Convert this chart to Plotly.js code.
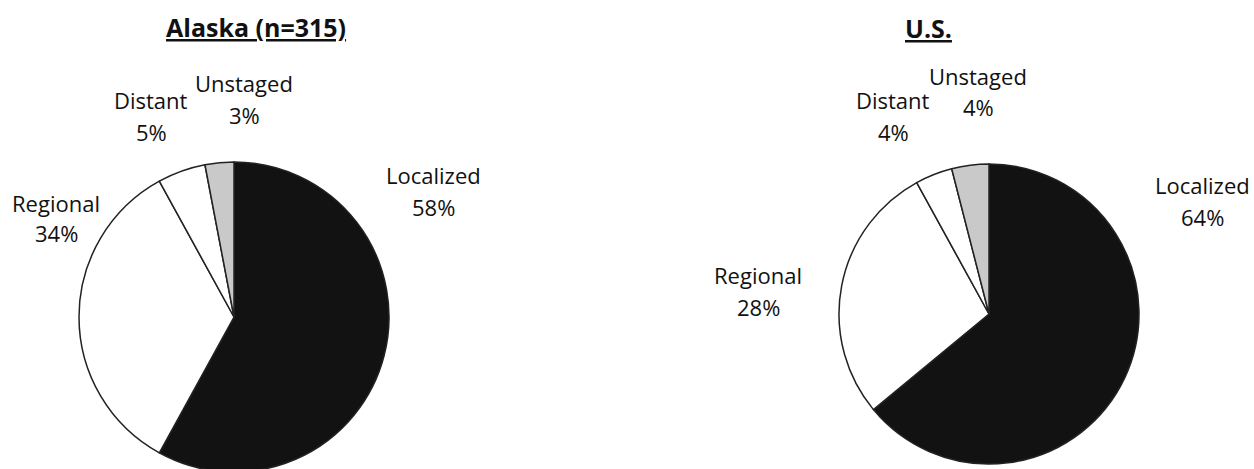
<!DOCTYPE html>
<html>
<head>
<meta charset="utf-8">
<script src="https://cdn.plot.ly/plotly-3.0.1.min.js"></script>
<style>
html,body{margin:0;padding:0;background:#fff;overflow:hidden;}
#chart{width:1254px;height:500px;}
</style>
</head>
<body>
<div id="chart"></div>
<script>
// ---- data ----
const categories = ['Localized', 'Regional', 'Distant', 'Unstaged'];
const alaskaValues = [58, 34, 5, 3];
const usValues = [64, 28, 4, 4];
const chartTitles = ['Alaska (n=315)', 'U.S.'];

// ---- styling / layout ----
const W = 1254, H = 500;
const sliceColors = ['#121212', '#ffffff', '#ffffff', '#c9c9c9'];
const fontFam = 'Open Sans, Noto Sans, sans-serif';
const px = x => x / W;
const py = y => 1 - y / H;

// pie boxes in pixels: [left, top, size]
const pieBoxes = [
  {x0: 79, y0: 162, size: 310},
  {x0: 839, y0: 164, size: 300}
];
// label centers in pixels (name line y, percent line y), order follows categories
const labelPos = [
  [[433, 175, 207], [56, 203, 233], [151, 100, 132], [244, 83, 115]],
  [[1202, 185, 217], [758, 275, 307], [893, 100, 132], [978, 76, 107]]
];
const titlePos = [[256, 27], [928, 28]];

const series = [alaskaValues, usValues];

const traces = series.map((vals, i) => {
  const b = pieBoxes[i];
  return {
    type: 'pie',
    labels: categories,
    values: vals,
    sort: false,
    direction: 'clockwise',
    rotation: 0,
    textinfo: 'none',
    hoverinfo: 'skip',
    showlegend: false,
    marker: {colors: sliceColors, line: {color: '#222', width: 1.5}},
    domain: {x: [px(b.x0), px(b.x0 + b.size)], y: [py(b.y0 + b.size), py(b.y0)]}
  };
});

const labelFont = {family: fontFam, size: 22, color: '#111'};
const annotations = [];
series.forEach((vals, i) => {
  categories.forEach((c, j) => {
    const p = labelPos[i][j];
    annotations.push({
      xref: 'paper', yref: 'paper', x: px(p[0]), y: py(p[1]),
      xanchor: 'center', yanchor: 'middle', showarrow: false,
      text: c, font: labelFont
    });
    annotations.push({
      xref: 'paper', yref: 'paper', x: px(p[0]), y: py(p[2]),
      xanchor: 'center', yanchor: 'middle', showarrow: false,
      text: vals[j] + '%', font: labelFont
    });
  });
  annotations.push({
    xref: 'paper', yref: 'paper', x: px(titlePos[i][0]), y: py(titlePos[i][1]),
    xanchor: 'center', yanchor: 'middle', showarrow: false,
    text: '<b><u>' + chartTitles[i] + '</u></b>',
    font: {family: fontFam, size: 25, color: '#111'}
  });
});

Plotly.newPlot('chart', traces, {
  width: W, height: H,
  margin: {l: 0, r: 0, t: 0, b: 0},
  paper_bgcolor: '#ffffff',
  plot_bgcolor: '#ffffff',
  annotations: annotations
}, {staticPlot: true});
</script>
</body>
</html>
